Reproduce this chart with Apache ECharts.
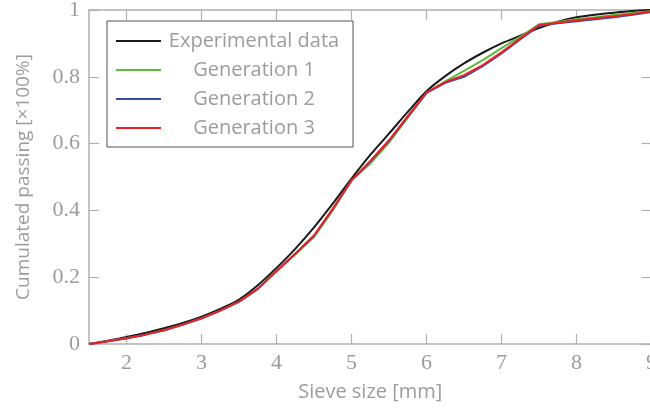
<!DOCTYPE html>
<html>
<head>
<meta charset="utf-8">
<script src="https://cdn.jsdelivr.net/npm/echarts@6/dist/echarts.min.js"></script>
<style>html,body{margin:0;padding:0;background:#fff}#c{width:650px;height:410px}</style>
</head>
<body>
<div id="c"></div>
<script>
const sieveSizes = [1.5,1.75,2,2.25,2.5,2.75,3,3.25,3.5,3.75,4,4.25,4.5,4.75,5,5.25,5.5,5.75,6,6.25,6.5,6.75,7,7.25,7.5,7.75,8,8.25,8.5,8.75,9];
const experimental = [0,0.01,0.021,0.033,0.047,0.063,0.082,0.105,0.133,0.176,0.228,0.285,0.349,0.42,0.495,0.566,0.63,0.695,0.757,0.802,0.84,0.872,0.90,0.923,0.946,0.965,0.978,0.986,0.992,0.997,1.0];
const generation1 = [0,0.008,0.017,0.028,0.041,0.058,0.077,0.1,0.127,0.165,0.218,0.268,0.32,0.4,0.49,0.54,0.603,0.678,0.752,0.786,0.818,0.85,0.886,0.92,0.957,0.964,0.972,0.978,0.985,0.991,0.997];
const generation2 = [0,0.008,0.017,0.028,0.041,0.058,0.077,0.1,0.127,0.165,0.219,0.27,0.324,0.404,0.49,0.546,0.608,0.68,0.752,0.782,0.8,0.832,0.87,0.912,0.953,0.96,0.966,0.972,0.978,0.986,0.994];
const generation3 = [0,0.008,0.017,0.028,0.041,0.058,0.077,0.1,0.127,0.165,0.218,0.27,0.325,0.405,0.49,0.548,0.61,0.682,0.753,0.784,0.805,0.835,0.873,0.915,0.955,0.962,0.969,0.975,0.981,0.988,0.996];
const xTicks = [2,3,4,5,6,7,8,9];
const yTicks = [0,0.2,0.4,0.6,0.8,1];
const seriesNames = ['Experimental data','Generation 1','Generation 2','Generation 3'];
const seriesColors = ['#1a1a1a','#5bbb3c','#3050a8','#ee2026'];
const seriesValues = [experimental, generation1, generation2, generation3];

const gray = '#9c9c9c';
const axisGray = '#b0b0b0';
const serif = '"Liberation Serif", "DejaVu Serif", serif';
const sans = '"Open Sans", "DejaVu Sans", sans-serif';

function xAxisCfg(pos, showLabels) {
  return {
    type: 'value', position: pos, min: 1.5, max: 9,
    axisLine: {show: true, onZero: false, lineStyle: {color: axisGray, width: 1.5}},
    axisTick: {show: true, inside: true, length: 10, customValues: xTicks, lineStyle: {color: axisGray, width: 1.2}},
    axisLabel: {show: showLabels, customValues: xTicks, color: gray, fontFamily: serif, fontSize: 22, margin: 8},
    splitLine: {show: false}
  };
}
function yAxisCfg(pos, showLabels) {
  return {
    type: 'value', position: pos, min: 0, max: 1, interval: 0.2,
    axisLine: {show: true, onZero: false, lineStyle: {color: axisGray, width: 1.5}},
    axisTick: {show: true, inside: true, length: 10, lineStyle: {color: axisGray, width: 1.2}},
    axisLabel: {show: showLabels, color: gray, fontFamily: serif, fontSize: 22, margin: 9,
      formatter: v => String(Math.round(v * 10) / 10)},
    splitLine: {show: false}
  };
}

const xb = xAxisCfg('bottom', true);
xb.name = 'Sieve size [mm]';
xb.nameLocation = 'middle';
xb.nameGap = 38;
xb.nameTextStyle = {color: gray, fontFamily: sans, fontSize: 20};
const yl = yAxisCfg('left', true);
yl.name = 'Cumulated passing [×100%]';
yl.nameLocation = 'middle';
yl.nameGap = 56;
yl.nameTextStyle = {color: gray, fontFamily: sans, fontSize: 19};

const chart = echarts.init(document.getElementById('c'), null, {renderer: 'canvas'});
chart.setOption({
  animation: false,
  backgroundColor: '#fff',
  grid: {left: 89, top: 10, width: 562.5, height: 334, containLabel: false, outerBoundsMode: 'none'},
  xAxis: [xb, xAxisCfg('top', false)],
  yAxis: [yl, yAxisCfg('right', false)],
  legend: {
    orient: 'vertical', left: 107, top: 21,
    padding: [10, 11, 9, 9],
    itemGap: 9, itemWidth: 45, itemHeight: 2, icon: 'rect',
    backgroundColor: '#fff', borderColor: '#555', borderWidth: 1,
    data: seriesNames,
    formatter: n => '{t|' + n + '}',
    textStyle: {color: gray, fontFamily: sans, fontSize: 20, lineHeight: 20,
      rich: {t: {width: 176, height: 20, align: 'center', color: gray, fontFamily: sans, fontSize: 20, lineHeight: 20}}}
  },
  series: seriesNames.map((name, i) => ({
    name: name, type: 'line', xAxisIndex: 0, yAxisIndex: 0,
    data: sieveSizes.map((x, j) => [x, seriesValues[i][j]]),
    symbol: 'none', smooth: i === 0 ? 0.3 : false,
    itemStyle: {color: seriesColors[i]},
    lineStyle: {color: seriesColors[i], width: 2},
    z: 2 + i
  }))
});
</script>
</body>
</html>
